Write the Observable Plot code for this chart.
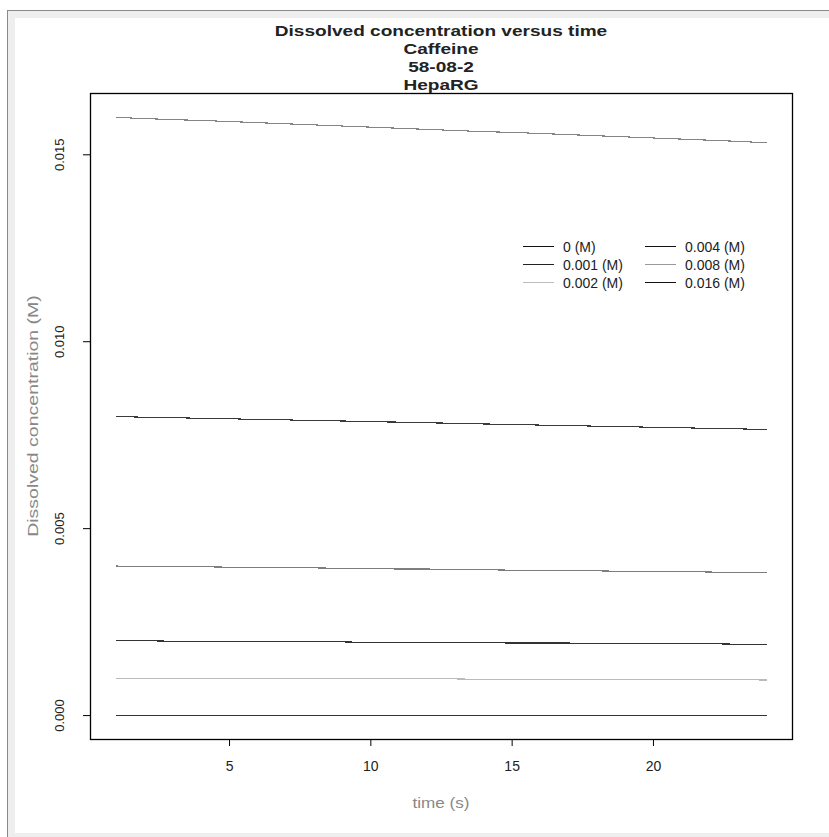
<!DOCTYPE html>
<html>
<head>
<meta charset="utf-8">
<script src="https://cdn.jsdelivr.net/npm/d3@7"></script>
<script src="https://cdn.jsdelivr.net/npm/@observablehq/plot@0.6"></script>
<style>
  html, body { margin: 0; padding: 0; background: #fff; }
  #page { position: relative; width: 829px; height: 837px; overflow: hidden; font-family: "Liberation Sans", Arial, sans-serif; }
  #outer { position: absolute; left: 7px; top: 10px; width: 822px; height: 827px; background: #eeeeee; border-left: 1px solid #8a8a8a; border-top: 1px solid #8a8a8a; box-sizing: border-box; }
  #inner { position: absolute; left: 15px; top: 18px; width: 814px; height: 815px; background: #fff; }
  #chart { position: absolute; left: 0; top: 0; }
  .title { position: absolute; left: 441px; transform: translateX(-50%) scaleX(1.27); font-weight: bold; font-size: 15px; color: #222; white-space: nowrap; line-height: 1; }
  .axlab { position: absolute; color: #888; font-size: 15px; white-space: nowrap; line-height: 1; }
  #legend { position: absolute; left: 521px; top: 238px; font-size: 14px; color: #222; }
  .lrow { position: absolute; white-space: nowrap; line-height: 1; }
  .lline { position: absolute; width: 31px; height: 0; border-top: 1px solid #000; }
</style>
</head>
<body>
<div id="page">
  <div id="outer"></div>
  <div id="inner"></div>
  <div id="chart"></div>
</div>
<script>
// ---- data ----
const titleLines = ["Dissolved concentration versus time", "Caffeine", "58-08-2", "HepaRG"];
const xLabel = "time (s)";
const yLabel = "Dissolved concentration (M)";
const time = [1,2,3,4,5,6,7,8,9,10,11,12,13,14,15,16,17,18,19,20,21,22,23,24];
const seriesNames = ["0 (M)", "0.001 (M)", "0.002 (M)", "0.004 (M)", "0.008 (M)", "0.016 (M)"];
const c0    = [0,0,0,0,0,0,0,0,0,0,0,0,0,0,0,0,0,0,0,0,0,0,0,0];
const c001  = [0.00100,0.00100,0.00100,0.00099,0.00099,0.00099,0.00099,0.00099,0.00098,0.00098,0.00098,0.00098,0.00098,0.00097,0.00097,0.00097,0.00097,0.00097,0.00096,0.00096,0.00096,0.00096,0.00096,0.00095];
const c002  = [0.00200,0.00200,0.00199,0.00199,0.00198,0.00198,0.00198,0.00197,0.00197,0.00196,0.00196,0.00196,0.00195,0.00195,0.00194,0.00194,0.00194,0.00193,0.00193,0.00192,0.00192,0.00192,0.00191,0.00191];
const c004  = [0.00400,0.00399,0.00398,0.00398,0.00397,0.00396,0.00395,0.00395,0.00394,0.00393,0.00392,0.00392,0.00391,0.00390,0.00389,0.00389,0.00388,0.00387,0.00386,0.00386,0.00385,0.00384,0.00383,0.00382];
const c008  = [0.00800,0.00798,0.00797,0.00795,0.00794,0.00792,0.00791,0.00789,0.00788,0.00786,0.00785,0.00783,0.00782,0.00780,0.00779,0.00777,0.00776,0.00774,0.00773,0.00771,0.00770,0.00768,0.00767,0.00765];
const c016  = [0.01600,0.01597,0.01594,0.01592,0.01589,0.01586,0.01583,0.01580,0.01577,0.01574,0.01571,0.01568,0.01565,0.01562,0.01560,0.01557,0.01554,0.01551,0.01548,0.01545,0.01542,0.01539,0.01536,0.01532];
const seriesValues = [c0, c001, c002, c004, c008, c016];
const lineColors   = ["#333333", "#bbbbbb", "#333333", "#7e7e7e", "#3a3a3a", "#858585"];
const legendColors = ["#111111", "#222222", "#bbbbbb", "#111111", "#999999", "#111111"];
const xTicks = [5, 10, 15, 20];
const yTicks = [0, 0.005, 0.010, 0.015];

// ---- chart ----
const rows = [];
seriesValues.forEach((vals, i) => vals.forEach((v, j) => rows.push({series: seriesNames[i], t: time[j], c: v, color: lineColors[i]})));

const W = 829, H = 837;
const chart = Plot.plot({
  width: W, height: H,
  marginLeft: 90, marginRight: 37, marginTop: 93, marginBottom: 98,
  style: {fontFamily: "Liberation Sans, Arial, sans-serif", fontSize: "14px", color: "#222", background: "transparent"},
  x: {domain: [0.08, 24.92]},
  y: {domain: [-0.00064, 0.01664]},
  marks: [
    Plot.frame({stroke: "#000", strokeWidth: 1.3}),
    Plot.axisX({ticks: xTicks, tickSize: 7, tickPadding: 15, tickFormat: d3.format("d"), label: null, stroke: "#000", fill: "#222"}),
    Plot.axisY({ticks: yTicks, tickSize: 7, tickRotate: -90, tickPadding: 20, tickFormat: d3.format(".3f"), label: null, stroke: "#000", fill: "#222", fontSize: 13}),
    Plot.line(rows, {x: "t", y: "c", z: "series", stroke: "color", strokeWidth: 1.1, shapeRendering: "crispEdges"})
  ]
});
document.getElementById("chart").appendChild(chart);

// ---- text overlays ----
const page = document.getElementById("page");
const titleTops = [23, 41, 59, 77];
titleLines.forEach((t, i) => {
  const d = document.createElement("div");
  d.className = "title";
  d.style.top = titleTops[i] + "px";
  d.textContent = t;
  page.appendChild(d);
});
const xl = document.createElement("div");
xl.className = "axlab";
xl.textContent = xLabel;
xl.style.left = "441px"; xl.style.top = "795px"; xl.style.transform = "translateX(-50%) scaleX(1.14)";
page.appendChild(xl);
const yl = document.createElement("div");
yl.className = "axlab";
yl.textContent = yLabel;
yl.style.left = "32px"; yl.style.top = "416px"; yl.style.transform = "translate(-50%, -50%) rotate(-90deg) scaleX(1.3)";
page.appendChild(yl);

// legend
const leg = document.createElement("div");
leg.id = "legend";
seriesNames.forEach((name, i) => {
  const col = Math.floor(i / 3), row = i % 3;
  const ln = document.createElement("div");
  ln.className = "lline";
  ln.style.left = (col * 122 + 2) + "px";
  ln.style.top = (row * 18 + 8) + "px";
  ln.style.borderTopColor = legendColors[i];
  leg.appendChild(ln);
  const tx = document.createElement("div");
  tx.className = "lrow";
  tx.style.left = (col * 122 + 42) + "px";
  tx.style.top = (row * 18 + 2) + "px";
  tx.textContent = name;
  leg.appendChild(tx);
});
page.appendChild(leg);
</script>
</body>
</html>
